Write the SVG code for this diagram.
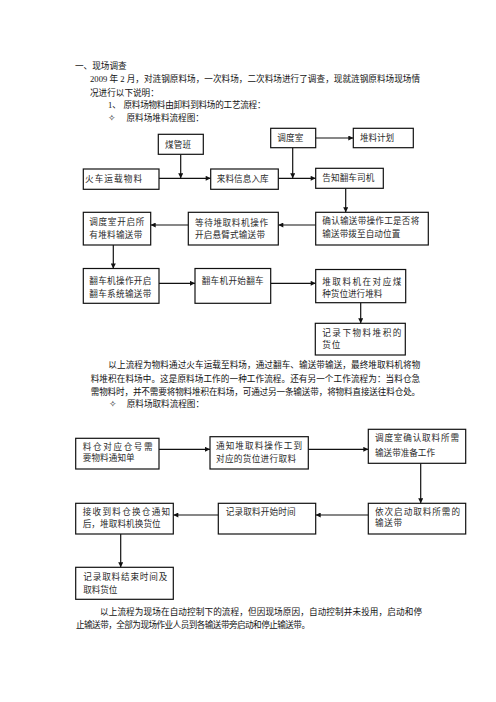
<svg xmlns="http://www.w3.org/2000/svg" width="496" height="702" viewBox="0 0 496 702">
<style>
text{font-family:"Liberation Serif","Noto Sans CJK SC",serif;font-size:8.6px;fill:#111}
.b text{fill:#2a2a2a}
.b rect{fill:#fff;stroke:#111;stroke-width:1.2}
.c line{stroke:#111;stroke-width:1.2;fill:none}
.a{marker-end:url(#ah)}
</style>
<defs>
<marker id="ah" viewBox="0 0 6 6" markerUnits="userSpaceOnUse" markerWidth="6" markerHeight="5" refX="6" refY="3" orient="auto">
<path d="M0,0 L6,3 L0,6 z" fill="#111"/>
</marker>
</defs>
<rect width="496" height="702" fill="#fff"/>

<g id="intro">
<text x="75" y="69">一、现场调查</text>
<text x="90" y="82" textLength="330" lengthAdjust="spacing">2009 年 2 月，对涟钢原料场，一次料场，二次料场进行了调查，现就涟钢原料场现场情</text>
<text x="90" y="96">况进行以下说明：</text>
<text x="108" y="108">1、</text>
<text x="123.5" y="108" textLength="142" lengthAdjust="spacing">原料场物料由卸料到料场的工艺流程：</text>
<text x="108" y="121">✧</text>
<text x="126.5" y="121">原料场堆料流程图：</text>
</g>

<g class="c" id="connectors">
<line class="a" x1="159" y1="178.3" x2="210.7" y2="178.3"/>
<line class="a" x1="180.7" y1="154.5" x2="180.7" y2="178.3"/>
<line class="a" x1="278.3" y1="178.3" x2="315.7" y2="178.3"/>
<line class="a" x1="292.7" y1="147.7" x2="292.7" y2="178.3"/>
<line class="a" x1="315.7" y1="138" x2="353.3" y2="138"/>
<line class="a" x1="345.7" y1="188.3" x2="345.7" y2="212.3"/>
<line class="a" x1="315.7" y1="225" x2="278.3" y2="225"/>
<line class="a" x1="188.3" y1="225" x2="150.7" y2="225"/>
<line class="a" x1="113.3" y1="245" x2="113.3" y2="268.5"/>
<line class="a" x1="159" y1="283.3" x2="195" y2="283.3"/>
<line class="a" x1="270.7" y1="283.3" x2="315.7" y2="283.3"/>
<line class="a" x1="360.7" y1="302.7" x2="360.7" y2="323.3"/>
<line class="a" x1="159" y1="449.3" x2="210" y2="449.3"/>
<line class="a" x1="308.3" y1="449.3" x2="368.3" y2="449.3"/>
<line class="a" x1="420.7" y1="463.3" x2="420.7" y2="503.3"/>
<line class="a" x1="368.3" y1="515" x2="315.7" y2="515"/>
<line class="a" x1="218.3" y1="515" x2="173.3" y2="515"/>
<line class="a" x1="120.7" y1="534" x2="120.7" y2="567.3"/>
</g>

<g class="b" id="n_meiguanban"><rect x="158.3" y="134.3" width="45" height="20"/><text x="165" y="147.5" textLength="26" lengthAdjust="spacing">煤管班</text></g>
<g class="b" id="n_diaodushi"><rect x="270.7" y="128.3" width="45" height="19.4"/><text x="277.3" y="141.3" textLength="26" lengthAdjust="spacing">调度室</text></g>
<g class="b" id="n_duiliaojihua"><rect x="353.3" y="128.3" width="60" height="19.4"/><text x="360" y="140.5" textLength="34" lengthAdjust="spacing">堆料计划</text></g>
<g class="b" id="n_huoche"><rect x="83.3" y="169" width="75.7" height="20.3"/><text x="85" y="182" textLength="57" lengthAdjust="spacing">火车运载物料</text></g>
<g class="b" id="n_lailiao"><rect x="210.7" y="169" width="67.6" height="20.3"/><text x="216.7" y="182" textLength="52" lengthAdjust="spacing">来料信息入库</text></g>
<g class="b" id="n_gaozhi"><rect x="315.7" y="168.3" width="67.6" height="20"/><text x="322.3" y="181.3" textLength="52" lengthAdjust="spacing">告知翻车司机</text></g>
<g class="b" id="n_queren"><rect x="315.7" y="212.3" width="112.6" height="32.7"/><text x="322.3" y="224" textLength="97" lengthAdjust="spacing">确认输送带操作工是否将</text><text x="322.3" y="237.3" textLength="78" lengthAdjust="spacing">输送带拨至自动位置</text></g>
<g class="b" id="n_dengdai"><rect x="188.3" y="212.3" width="90" height="32.7"/><text x="195" y="225.5" textLength="73" lengthAdjust="spacing">等待堆取料机操作</text><text x="195" y="238" textLength="70" lengthAdjust="spacing">开启悬臂式输送带</text></g>
<g class="b" id="n_diaoduopen"><rect x="83.3" y="212.3" width="67.4" height="32.7"/><text x="89.3" y="225.3" textLength="55" lengthAdjust="spacing">调度室开启所</text><text x="89.3" y="238" textLength="53" lengthAdjust="spacing">有堆料输送带</text></g>
<g class="b" id="n_fanchecaozuo"><rect x="83.3" y="268.5" width="75.7" height="34.8"/><text x="89.3" y="284" textLength="62" lengthAdjust="spacing">翻车机操作开启</text><text x="89.3" y="297.3" textLength="62" lengthAdjust="spacing">翻车系统输送带</text></g>
<g class="b" id="n_fanchekaishi"><rect x="195" y="268.5" width="75.7" height="34.8"/><text x="201.7" y="284" textLength="62" lengthAdjust="spacing">翻车机开始翻车</text></g>
<g class="b" id="n_duiqu"><rect x="315.7" y="269.5" width="90" height="33.2"/><text x="322.3" y="284.5" textLength="79" lengthAdjust="spacing">堆取料机在对应煤</text><text x="322.3" y="296.5" textLength="60" lengthAdjust="spacing">种货位进行堆料</text></g>
<g class="b" id="n_jilu1"><rect x="315.3" y="323.3" width="90" height="31.7"/><text x="322.3" y="336.3" textLength="79" lengthAdjust="spacing">记录下物料堆积的</text><text x="322.3" y="348" textLength="18" lengthAdjust="spacing">货位</text></g>

<g id="para1">
<text x="108.3" y="367.5" textLength="312" lengthAdjust="spacing">以上流程为物料通过火车运载至料场，通过翻车、输送带输送，最终堆取料机将物</text>
<text x="90.7" y="381.5" textLength="329.5" lengthAdjust="spacing">料堆积在料场中。这是原料场工作的一种工作流程。还有另一个工作流程为：当料仓急</text>
<text x="90.7" y="394.5" textLength="329.5" lengthAdjust="spacing">需物料时，并不需要将物料堆积在料场，可通过另一条输送带，将物料直接送往料仓处。</text>
<text x="108.5" y="407">✧</text>
<text x="126.7" y="407">原料场取料流程图：</text>
</g>

<g class="b" id="n_liaocang"><rect x="75.7" y="438.3" width="83.3" height="30.7"/><text x="82.7" y="449.7" textLength="70" lengthAdjust="spacing">料仓对应仓号需</text><text x="82.7" y="461.3" textLength="52" lengthAdjust="spacing">要物料通知单</text></g>
<g class="b" id="n_tongzhi"><rect x="210" y="436.7" width="98.3" height="32.3"/><text x="216" y="449" textLength="86" lengthAdjust="spacing">通知堆取料操作工到</text><text x="216" y="462" textLength="80" lengthAdjust="spacing">对应的货位进行取料</text></g>
<g class="b" id="n_diaoduqueren"><rect x="368.3" y="429.3" width="97.4" height="34"/><text x="375" y="441.3" textLength="84" lengthAdjust="spacing">调度室确认取料所需</text><text x="375" y="456.3" textLength="60" lengthAdjust="spacing">输送带准备工作</text></g>
<g class="b" id="n_yici"><rect x="368.3" y="503.3" width="97.4" height="30.7"/><text x="375" y="514.7" textLength="85" lengthAdjust="spacing">依次启动取料所需的</text><text x="375" y="526.3" textLength="27" lengthAdjust="spacing">输送带</text></g>
<g class="b" id="n_jilukaishi"><rect x="218.3" y="503.3" width="97.4" height="30.7"/><text x="225.7" y="514.7" textLength="70" lengthAdjust="spacing">记录取料开始时间</text></g>
<g class="b" id="n_jieshou"><rect x="75.7" y="503.3" width="97.6" height="30.7"/><text x="82.7" y="514.7" textLength="87.5" lengthAdjust="spacing">接收到料仓换仓通知</text><text x="82.7" y="527" textLength="78" lengthAdjust="spacing">后，堆取料机换货位</text></g>
<g class="b" id="n_jilujieshu"><rect x="75.7" y="567.3" width="97.6" height="32"/><text x="83.3" y="579.7" textLength="84" lengthAdjust="spacing">记录取料结束时间及</text><text x="83.3" y="593" textLength="34" lengthAdjust="spacing">取料货位</text></g>

<g id="para2">
<text x="100" y="614.7" textLength="322" lengthAdjust="spacing">以上流程为现场在自动控制下的流程，但因现场原因，自动控制并未投用，启动和停</text>
<text x="76" y="627.5" textLength="234" lengthAdjust="spacing">止输送带，全部为现场作业人员到各输送带旁启动和停止输送带。</text>
</g>
</svg>
